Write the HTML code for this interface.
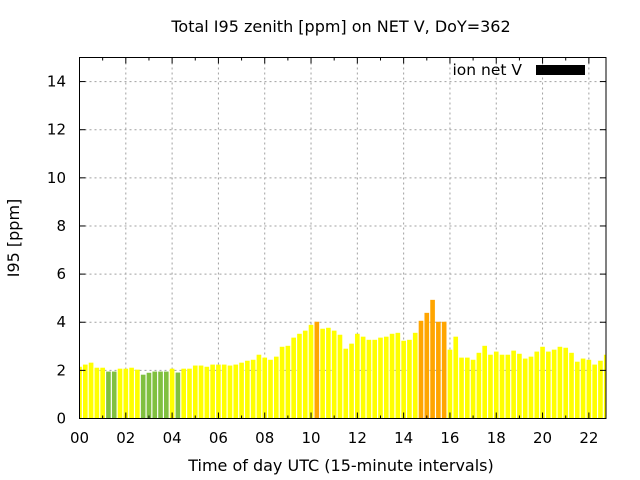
<!DOCTYPE html>
<html><head><meta charset="utf-8"><style>
html,body{margin:0;padding:0;background:#fff}
svg{display:block;font-family:"DejaVu Sans","Liberation Sans",sans-serif}
</style></head><body>
<svg id="chart" width="640" height="480" viewBox="0 0 640 480" xmlns="http://www.w3.org/2000/svg">
<text x="341" y="32" text-anchor="middle" font-size="16">Total I95 zenith [ppm] on NET V, DoY=362</text>
<text transform="translate(19,238) rotate(-90)" text-anchor="middle" font-size="16">I95 [ppm]</text>
<text x="341" y="471" text-anchor="middle" font-size="16">Time of day UTC (15-minute intervals)</text>
<g id="grid"></g>
<g id="bars"></g>
<g id="axes"></g>
<g>
<text x="522" y="75" text-anchor="end" font-size="15.5">ion net V</text>
<rect x="536" y="65" width="49" height="10" fill="#000"/>
</g>
</svg>
<script>
const values = [2.15,2.24,2.32,2.11,2.11,1.95,1.95,2.07,2.07,2.11,2.03,1.82,1.90,1.95,1.95,1.95,2.07,1.91,2.07,2.07,2.20,2.20,2.15,2.24,2.24,2.24,2.20,2.24,2.32,2.40,2.44,
2.65,2.53,2.44,2.57,2.98,3.02,3.36,3.52,3.65,3.89,4.02,3.73,3.77,3.65,3.48,2.90,3.11,3.52,3.40,3.27,3.27,3.36,3.40,3.52,3.56,3.23,3.27,3.56,4.06,4.39,
4.93,4.02,4.02,2.86,3.40,2.53,2.53,2.44,2.73,3.02,2.65,2.78,2.65,2.65,2.82,2.69,2.49,2.57,2.78,2.98,2.78,2.86,2.98,2.94,2.73,2.36,2.49,2.44,2.24,2.40,2.65];
const xTicks = [0,2,4,6,8,10,12,14,16,18,20,22];
const xTickLabels = ["00","02","04","06","08","10","12","14","16","18","20","22"];
const yTicks = [0,2,4,6,8,10,12,14];
const NS="http://www.w3.org/2000/svg";
const L=79.5,R=606,T=57.5,B=418.5;
const xMin=0,xMax=22.74,yMin=0,yMax=15;
const xs=v=>L+(v-xMin)/(xMax-xMin)*(R-L);
const ys=v=>B-(v-yMin)/(yMax-yMin)*(B-T);
function mk(tag,attrs,parent){const e=document.createElementNS(NS,tag);for(const k in attrs)e.setAttribute(k,attrs[k]);parent.appendChild(e);return e;}
const grid=document.getElementById('grid'),bars=document.getElementById('bars'),axes=document.getElementById('axes');
const defs=mk('defs',{},document.getElementById('chart'));
const cp=mk('clipPath',{id:'pc'},defs);mk('rect',{x:L,y:T,width:R-L,height:B-T},cp);
bars.setAttribute('clip-path','url(#pc)');
xTicks.forEach((t,i)=>{
  const x=xs(t);
  if(t>0){const g=mk('line',{x1:x,y1:T,x2:x,y2:B,stroke:'#a0a0a0','stroke-dasharray':'2,3','stroke-width':1},grid);
  
  }
  const tl=mk('text',{x:x,y:443,'text-anchor':'middle','font-size':'15'},axes);tl.textContent=xTickLabels[i];
  
  
  mk('line',{x1:x,y1:B,x2:x,y2:B-6,stroke:'#000'},axes);
  mk('line',{x1:x,y1:T,x2:x,y2:T+6,stroke:'#000'},axes);
  const m=xs(t+1);
  if(m<R){mk('line',{x1:m,y1:B,x2:m,y2:B-3,stroke:'#000'},axes);mk('line',{x1:m,y1:T,x2:m,y2:T+3,stroke:'#000'},axes);}
});
yTicks.forEach(t=>{
  const y=ys(t);
  if(t>0){const g=mk('line',{x1:L,y1:y,x2:R,y2:y,stroke:'#a0a0a0','stroke-dasharray':'2,3','stroke-width':1},grid);
  
  }
  const tl=mk('text',{x:66,y:y+5,'text-anchor':'end','font-size':'15'},axes);tl.textContent=t;
  
  
  mk('line',{x1:L,y1:y,x2:L+6,y2:y,stroke:'#000'},axes);
  mk('line',{x1:R,y1:y,x2:R-6,y2:y,stroke:'#000'},axes);
});
values.forEach((v,i)=>{
  const t=i*0.25,w=0.1;
  const x0=xs(t-w),x1=xs(t+w);
  const col=v<2?'#80c040':(v<4?'#ffff00':'#ffa500');
  const r=mk('rect',{x:x0,y:ys(v),width:x1-x0,height:ys(0)-ys(v),fill:col},bars);
  
  
});
const fr=mk('rect',{x:L,y:T,width:R-L,height:B-T,fill:'none',stroke:'#000','stroke-width':1},axes);


</script>
</body></html>
